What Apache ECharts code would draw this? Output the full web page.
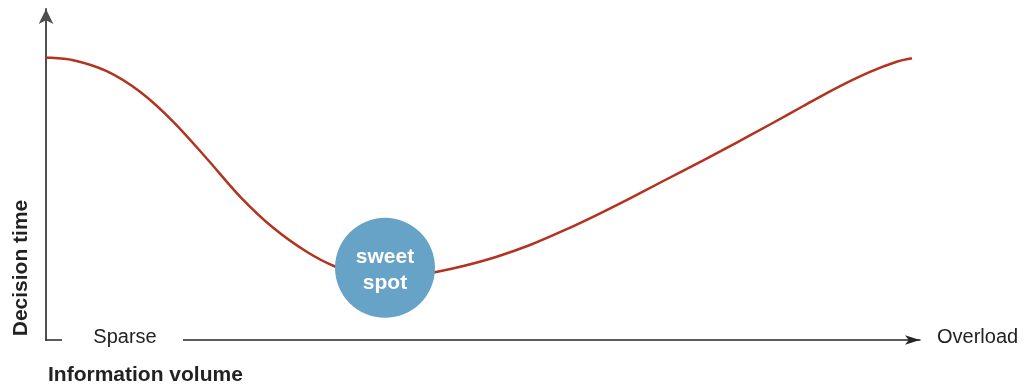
<!DOCTYPE html>
<html>
<head>
<meta charset="utf-8">
<script src="https://cdn.jsdelivr.net/npm/echarts@6/dist/echarts.min.js"></script>
<style>
html,body{margin:0;padding:0;background:#fff;}
#c{width:1024px;height:385px;}
</style>
</head>
<body>
<div id="c"></div>
<script>
// Curve: information volume (x, 0..100) vs decision time (y, 0..100)
const volume = [0, 3.12, 6.95, 10.76, 14.57, 18.39, 22.2, 26.0, 29.83, 33.07, 36.5, 40.5, 44.5, 47.75, 51.57, 55.38, 59.19, 63.0, 66.82, 70.63, 75.2, 79.03, 82.84, 86.65, 90.47, 94.28, 97.33, 99.08];
const decisionTime = [85.35, 84.53, 81.21, 74.98, 65.92, 54.83, 43.35, 33.9, 26.65, 22.2, 19.49, 18.64, 20.48, 22.36, 25.17, 28.7, 33.02, 37.76, 42.81, 48.04, 54.26, 59.64, 65.11, 70.69, 76.19, 81.0, 84.08, 85.11];
const sweetSpot = [38.79, 21.8];
const sweetLabel = 'sweet\nspot';
const xStartLabel = 'Sparse';
const xEndLabel = 'Overload';
const xTitle = 'Information volume';
const yTitle = 'Decision time';

const curve = volume.map((v, i) => [v, decisionTime[i]]);

// Smooth curve through the data points (Catmull-Rom as cubic Beziers), positioned by the chart's axes
function renderCurve(params, api) {
  if (params.dataIndex !== 0) return null;
  const pts = curve.map(p => api.coord(p));
  const n = pts.length;
  let d = 'M' + pts[0][0] + ' ' + pts[0][1];
  for (let i = 0; i < n - 1; i++) {
    const p0 = pts[Math.max(i - 1, 0)], p1 = pts[i], p2 = pts[i + 1], p3 = pts[Math.min(i + 2, n - 1)];
    const c1x = p1[0] + (p2[0] - p0[0]) / 6, c1y = p1[1] + (p2[1] - p0[1]) / 6;
    const c2x = p2[0] - (p3[0] - p1[0]) / 6, c2y = p2[1] - (p3[1] - p1[1]) / 6;
    d += ' C' + c1x + ' ' + c1y + ' ' + c2x + ' ' + c2y + ' ' + p2[0] + ' ' + p2[1];
  }
  return {type: 'path', shape: {pathData: d}, style: {fill: 'none', stroke: '#b2331f', lineWidth: 2.5}};
}

const chart = echarts.init(document.getElementById('c'), null, {renderer: 'canvas'});
const FONT = '"Liberation Sans", Arial, Helvetica, sans-serif';
chart.setOption({
  animation: false,
  grid: {left: 46, right: 104, top: 9, bottom: 45, containLabel: false},
  xAxis: {
    type: 'value', min: 0, max: 100,
    axisLine: {show: true, symbol: ['none', 'arrow'], symbolSize: [7, 15], lineStyle: {color: '#262626', width: 1.5}},
    axisTick: {show: false}, axisLabel: {show: false}, splitLine: {show: false}
  },
  yAxis: {
    type: 'value', min: 0, max: 100,
    axisLine: {show: true, symbol: ['none', 'arrow'], symbolSize: [11, 15], lineStyle: {color: '#4f4f4f', width: 2}},
    axisTick: {show: false}, axisLabel: {show: false}, splitLine: {show: false}
  },
  series: [
    {
      type: 'custom', coordinateSystem: 'cartesian2d', data: curve, renderItem: renderCurve,
      silent: true, z: 3, clip: false
    },
    {
      type: 'scatter', data: [sweetSpot], symbolSize: 100, z: 5,
      itemStyle: {color: '#67a3c7', opacity: 1},
      label: {show: true, position: 'inside', offset: [0, 2], formatter: sweetLabel, color: '#ffffff',
        fontFamily: FONT, fontWeight: 'bold', fontSize: 21, lineHeight: 26}
    }
  ],
  graphic: [
    {type: 'rect', z: 100, shape: {x: 62, y: 334, width: 121, height: 12}, style: {fill: '#ffffff'}},
    {type: 'text', z: 101, x: 125, y: 337, style: {text: xStartLabel, font: '20px ' + FONT, fill: '#222', align: 'center', verticalAlign: 'middle'}},
    {type: 'text', z: 101, x: 937, y: 337, style: {text: xEndLabel, font: '20px ' + FONT, fill: '#222', align: 'left', verticalAlign: 'middle'}},
    {type: 'text', z: 101, x: 48, y: 375, style: {text: xTitle, font: 'bold 21px ' + FONT, fill: '#222', align: 'left', verticalAlign: 'middle'}},
    {type: 'text', z: 101, x: 21, y: 268, rotation: Math.PI / 2, style: {text: yTitle, font: 'bold 21px ' + FONT, fill: '#222', align: 'center', verticalAlign: 'middle'}}
  ]
});
</script>
</body>
</html>
